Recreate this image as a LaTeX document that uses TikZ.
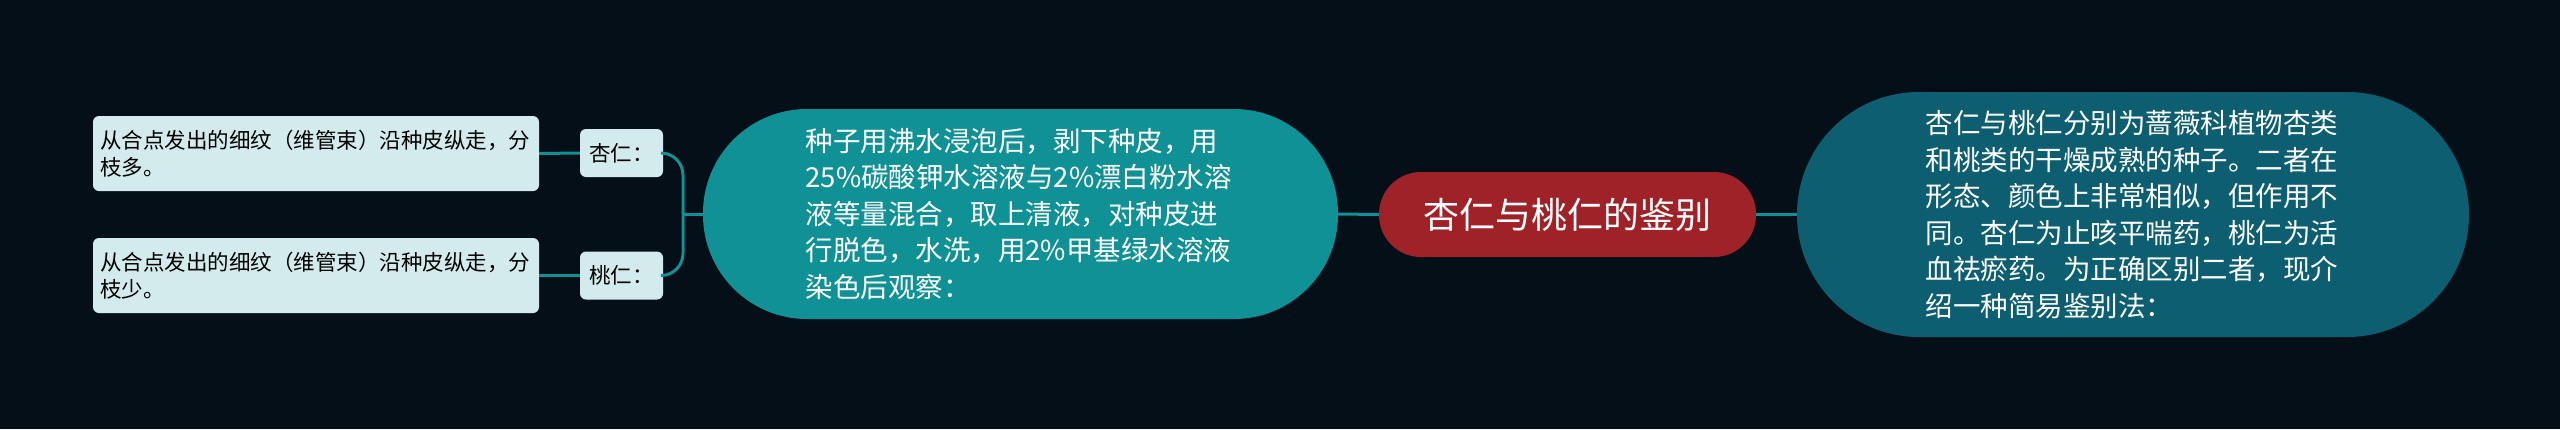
\documentclass[tikz,border=0pt]{standalone}
\usepackage{fontspec}
\setmainfont{Noto Sans CJK SC}
\usepackage{tikz}

\definecolor{bgdark}{RGB}{4,15,23}
\definecolor{linkteal}{RGB}{16,145,150}
\definecolor{pillteal}{RGB}{16,145,150}
\definecolor{pillred}{RGB}{160,34,41}
\definecolor{pillblue}{RGB}{12,94,112}
\definecolor{palebox}{RGB}{211,235,236}

\begin{document}
\begin{tikzpicture}[x=1pt, y=-1pt,
	link/.style={draw=linkteal, line width=3pt},
	leafbox/.style={fill=palebox, rounded corners=6pt, text=black, align=left,
		text width=432pt, inner xsep=7pt, minimum height=75pt,
		font=\fontsize{21.5}{27}\selectfont},
	tagbox/.style={fill=palebox, rounded corners=6pt, text=black,
		minimum width=83pt, minimum height=48pt, inner xsep=2pt,
		font=\fontsize{21.5}{27}\selectfont},
	pill/.style={text=white, align=left, font=\fontsize{27.5}{36.5}\selectfont}]
		\fill [bgdark] (0,0) rectangle (2560,429);
		\useasboundingbox (0,0) rectangle (2560,429);

		% centre topic
		\node [fill=pillred, text=white, rounded corners=42pt, minimum width=377pt,
			minimum height=85pt, font=\fontsize{36}{40}\selectfont]
			(title) at (1567.5,214.5) {杏仁与桃仁的鉴别};

		% right branch
		\node [pill, fill=pillblue, rounded corners=122pt, text width=415pt,
			inner xsep=128.5pt, minimum height=245pt]
			(intro) at (2133,214.5) {杏仁与桃仁分别为蔷薇科植物杏类\\和桃类的干燥成熟的种子。二者在\\形态、颜色上非常相似，但作用不\\同。杏仁为止咳平喘药，桃仁为活\\血祛瘀药。为正确区别二者，现介\\绍一种简易鉴别法：};

		% left branch
		\node [pill, fill=pillteal, rounded corners=104pt, text width=430pt,
			inner xsep=102.5pt, minimum height=210pt]
			(method) at (1020.5,214) {种子用沸水浸泡后，剥下种皮，用\\25\%碳酸钾水溶液与2\%漂白粉水溶\\液等量混合，取上清液，对种皮进\\行脱色，水洗，用2\%甲基绿水溶液\\染色后观察：};

		\node [tagbox] (xing) at (621.5,153) {杏仁：};
		\node [tagbox] (tao) at (621.5,275.5) {桃仁：};
		\node [leafbox] (xingleaf) at (316,153.5) {从合点发出的细纹（维管束）沿种皮纵走，分\\枝多。};
		\node [leafbox] (taoleaf) at (316,275.5) {从合点发出的细纹（维管束）沿种皮纵走，分\\枝少。};

		\coordinate (fork) at (683,214);
		\draw [link] (method.east) -- (title.west);
		\draw [link] (title.east) -- (intro.west);
		\draw [link] (fork) -- (method.west);
		\draw [link, rounded corners=22pt] (xing.east) -| (fork) |- (tao.east);
		\draw [link] (xingleaf.east) -- (xing.west);
		\draw [link] (taoleaf.east) -- (tao.west);

	\end{tikzpicture}
\end{document}
